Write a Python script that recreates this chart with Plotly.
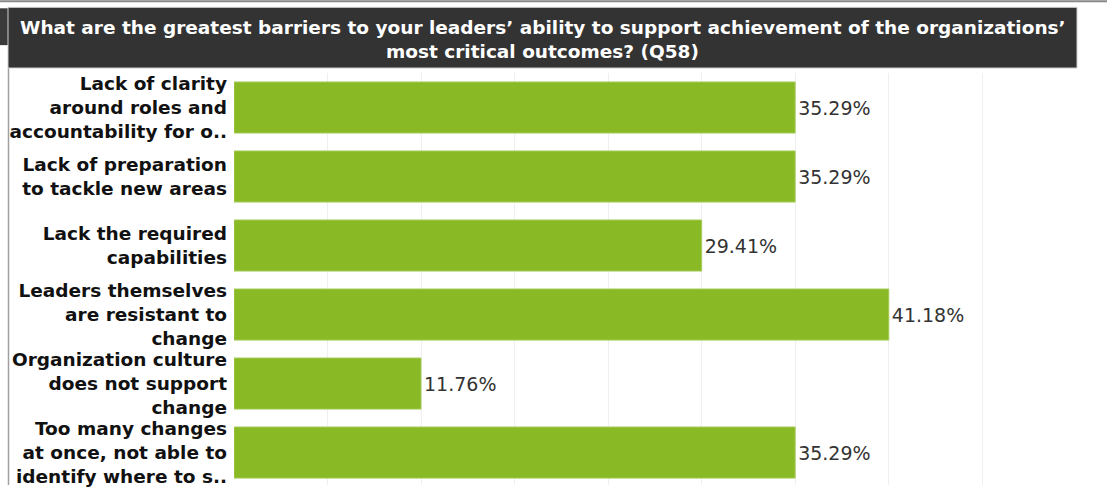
import plotly.graph_objects as go

categories = [
    "Lack of clarity<br>around roles and<br>accountability for o..",
    "Lack of preparation<br>to tackle new areas",
    "Lack the required<br>capabilities",
    "Leaders themselves<br>are resistant to<br>change",
    "Organization culture<br>does not support<br>change",
    "Too many changes<br>at once, not able to<br>identify where to s..",
]
values = [0.3529, 0.3529, 0.2941, 0.4118, 0.1176, 0.3529]
title_lines = [
    "What are the greatest barriers to your leaders\u2019 ability to support achievement of the organizations\u2019",
    "most critical outcomes? (Q58)",
]

W, H = 1107, 487
L, R, T, B = 234, 32, 73, 0
pw = W - L - R
ph = H - T - B

def px(x):
    return (x - L) / pw

def py(y):
    return (H - B - y) / ph

fig = go.Figure(
    go.Bar(
        x=values,
        y=categories,
        orientation="h",
        marker=dict(color="#89b925", line=dict(color="#a6cc5a", width=1)),
        width=0.74,
        text=values,
        texttemplate="%{x:.2%}",
        textposition="outside",
        textfont=dict(family="DejaVu Sans", size=19, color="#333333"),
        cliponaxis=False,
        hoverinfo="skip",
    )
)

fig.update_layout(
    width=W,
    height=H,
    margin=dict(l=L, r=R, t=T, b=B),
    plot_bgcolor="white",
    paper_bgcolor="white",
    showlegend=False,
    bargap=0.26,
    xaxis=dict(
        range=[0, 0.5289],
        tick0=0,
        dtick=1 / 17,
        showgrid=True,
        gridcolor="#efefef",
        gridwidth=1,
        showticklabels=False,
        zeroline=False,
        showline=False,
        fixedrange=True,
    ),
    yaxis=dict(
        categoryorder="array",
        categoryarray=categories,
        range=[5.47, -0.5],
        tickfont=dict(family="DejaVu Sans", size=18.5, color="#111111", weight="bold"),
        ticklabelstandoff=6,
        showgrid=False,
        showline=False,
        zeroline=False,
        fixedrange=True,
    ),
    shapes=[
        # screenshot frame lines
        dict(type="line", xref="paper", yref="paper", x0=px(0), x1=px(W), y0=py(1), y1=py(1),
             line=dict(color="#888888", width=2), layer="above"),
        dict(type="rect", xref="paper", yref="paper", x0=px(0), x1=px(8), y0=py(45), y1=py(8),
             fillcolor="#3a3a3a", line=dict(width=0), layer="above"),
        dict(type="line", xref="paper", yref="paper", x0=px(8.5), x1=px(8.5), y0=py(68), y1=py(H),
             line=dict(color="#a0a0a0", width=1.5), layer="above"),
        # title banner
        dict(type="rect", xref="paper", yref="paper", x0=px(8), x1=px(1077), y0=py(68), y1=py(7),
             fillcolor="#333333", line=dict(color="#d0d0d0", width=1), layer="above"),
    ],
    annotations=[
        dict(text=title_lines[0], xref="paper", yref="paper", x=px(542.5), y=py(27),
             xanchor="center", yanchor="middle", showarrow=False,
             font=dict(family="DejaVu Sans", size=18.5, color="white", weight="bold")),
        dict(text=title_lines[1], xref="paper", yref="paper", x=px(542.5), y=py(51),
             xanchor="center", yanchor="middle", showarrow=False,
             font=dict(family="DejaVu Sans", size=18.5, color="white", weight="bold")),
    ],
)

fig.write_html(
    "out.html",
    config={"displayModeBar": False},
    post_script="document.body.style.margin='0';document.body.style.overflow='hidden';",
)
